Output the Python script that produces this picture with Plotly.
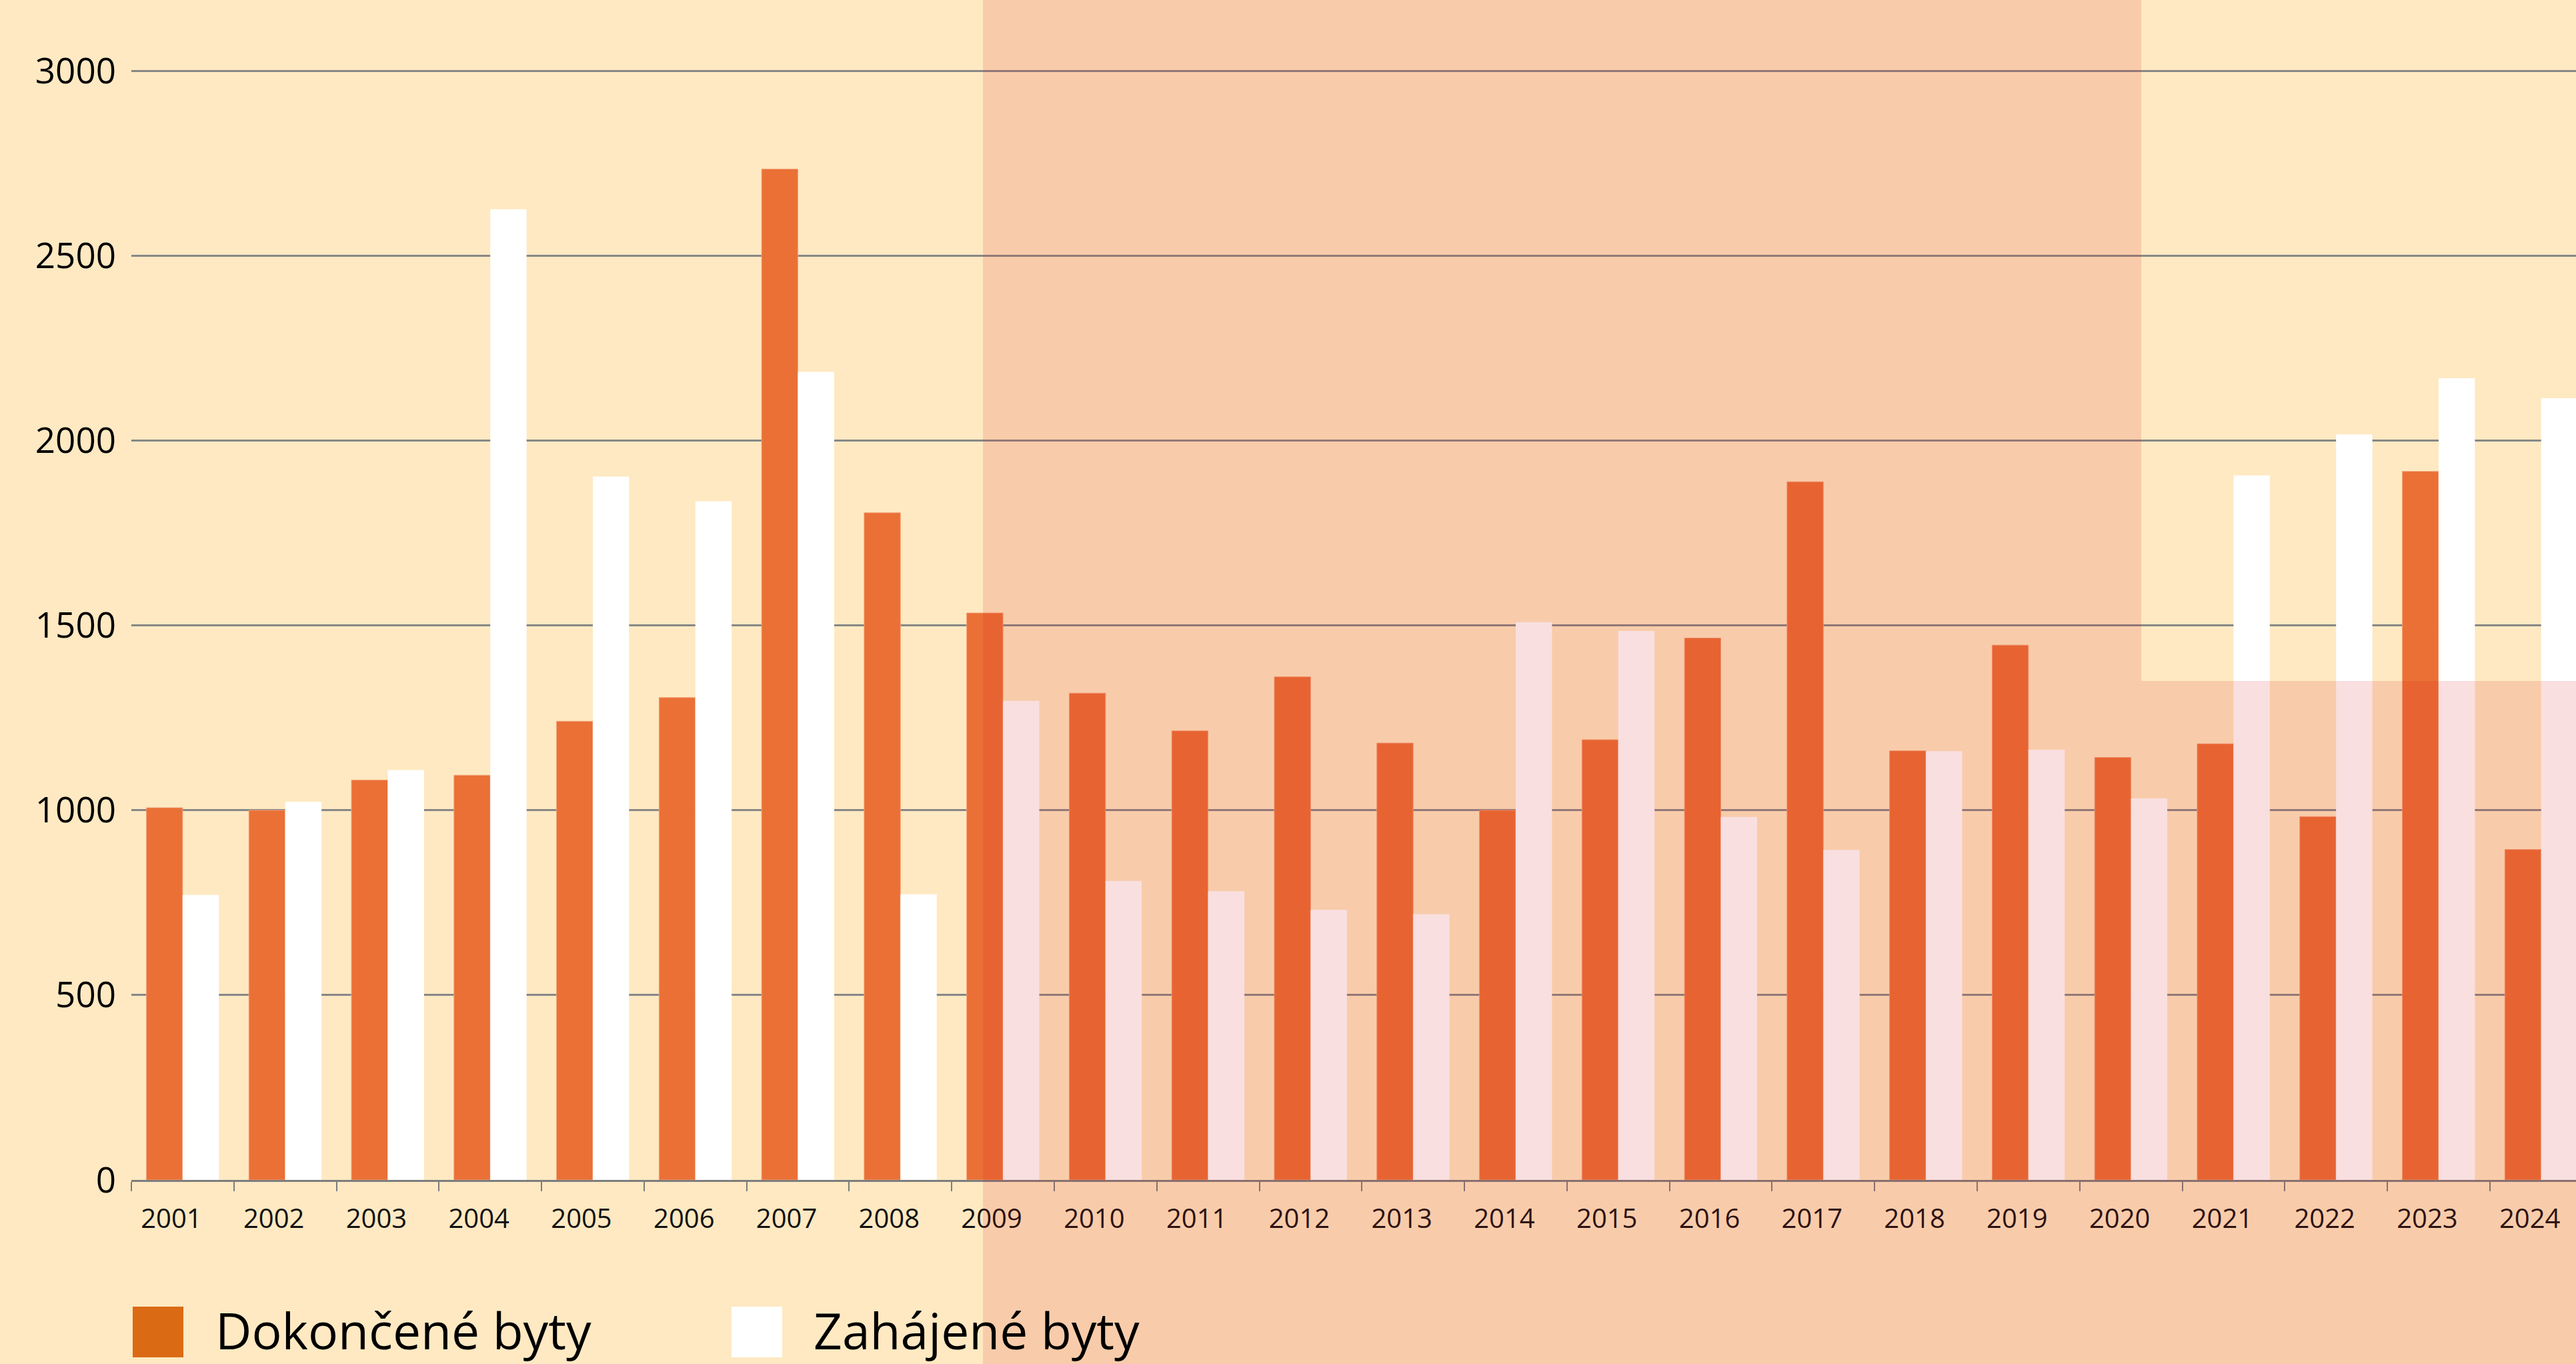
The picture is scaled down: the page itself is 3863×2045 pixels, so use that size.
import plotly.graph_objects as go

# ---- data ----
years = list(range(2001, 2025))
dokoncene = [1007, 1000, 1082, 1095, 1241, 1305, 2735, 1805, 1534, 1317, 1215, 1361,
             1182, 1000, 1191, 1466, 1889, 1161, 1447, 1143, 1180, 983, 1917, 894]
zahajene = [771, 1023, 1109, 2626, 1903, 1836, 2186, 773, 1296, 809, 781, 731,
            719, 1509, 1485, 982, 893, 1160, 1164, 1032, 1906, 2017, 2169, 2115]
series_names = ["Dokončené byty", "Zahájené byty"]
y_ticks = [0, 500, 1000, 1500, 2000, 2500, 3000]

# highlighted period (overlay)
overlay_x0 = 2008.805
overlay_x1 = 2020.1
overlay_split = 1350

# ---- styling ----
W, H = 3863, 2045
ML, MR, MT, MB = 197, 0, 101, 276
BG = "#FEE9C2"
ORANGE = "#EA7036"
LEGEND_ORANGE = "#DB6A14"
OVERLAY = "rgba(212,30,30,0.14)"
GRID = "#878787"
FONT = "Open Sans"

y_range = [0, 3010]
x_range = [2000.5, 2024.34]

fig = go.Figure()
fig.add_trace(go.Bar(x=years, y=dokoncene, name=series_names[0],
                     marker=dict(color=ORANGE, line=dict(color="rgba(246,165,125,0.9)", width=1)),
                     showlegend=False))
fig.add_trace(go.Bar(x=years, y=zahajene, name=series_names[1],
                     marker=dict(color="#FFFFFF", line=dict(width=0)),
                     showlegend=False))

def py(pixel_y):
    return (H - MB - pixel_y) / (H - MB - MT)

def px(pixel_x):
    return (pixel_x - ML) / (W - ML - MR)

shapes = []
annotations = []
# custom legend
legend_items = [(series_names[0], LEGEND_ORANGE, 199, 321), (series_names[1], "#FFFFFF", 1097, 1218)]
for name, col, sx, tx in legend_items:
    shapes.append(dict(type="rect", xref="paper", yref="paper",
                       x0=px(sx), x1=px(sx + 76), y0=py(2035), y1=py(1959),
                       fillcolor=col, line=dict(width=0), layer="above"))
    annotations.append(dict(xref="paper", yref="paper", x=px(tx), y=py(1994),
                            xanchor="left", yanchor="middle", showarrow=False,
                            text=name, font=dict(family=FONT, size=75, color="#000000")))

# overlay (L shape)
split_paper = (overlay_split - y_range[0]) / (y_range[1] - y_range[0])
path = (f"M {overlay_x0},-1 L {overlay_x0},2 L {overlay_x1},2 L {overlay_x1},{split_paper} "
        f"L 2030,{split_paper} L 2030,-1 Z")
shapes.append(dict(type="path", xref="x", yref="paper", path=path,
                   fillcolor=OVERLAY, line=dict(width=0), layer="above"))

fig.update_layout(
    width=W, height=H,
    margin=dict(l=ML, r=MR, t=MT, b=MB, pad=0),
    paper_bgcolor=BG, plot_bgcolor=BG,
    barmode="group", bargap=0.292, bargroupgap=0,
    font=dict(family=FONT, color="#000000"),
    shapes=shapes, annotations=annotations,
    showlegend=False,
)
fig.update_xaxes(
    range=x_range, tickmode="array", tickvals=years, ticktext=[str(y) for y in years],
    ticks="", showgrid=False, zeroline=False,
    showline=True, linecolor="#7d7d7d", linewidth=3,
    tickfont=dict(family=FONT, size=40, color="#111111"),
    ticklabelshift=-17, ticklabelstandoff=21,
    minor=dict(tickmode="array", tickvals=[y - 0.5 for y in years], ticks="outside",
               ticklen=14, tickwidth=2, tickcolor="#7d7d7d", showgrid=False),
)
fig.update_yaxes(
    range=y_range, tickmode="array", tickvals=y_ticks, ticks="",
    showgrid=True, gridcolor=GRID, gridwidth=3, zeroline=False, showline=False,
    tickfont=dict(family=FONT, size=53, color="#000000"),
    ticklabelstandoff=22,
)

fig.write_html(
    "out.html",
    config={"displayModeBar": False},
    post_script="document.body.style.margin='0';document.body.style.overflow='hidden';",
)
